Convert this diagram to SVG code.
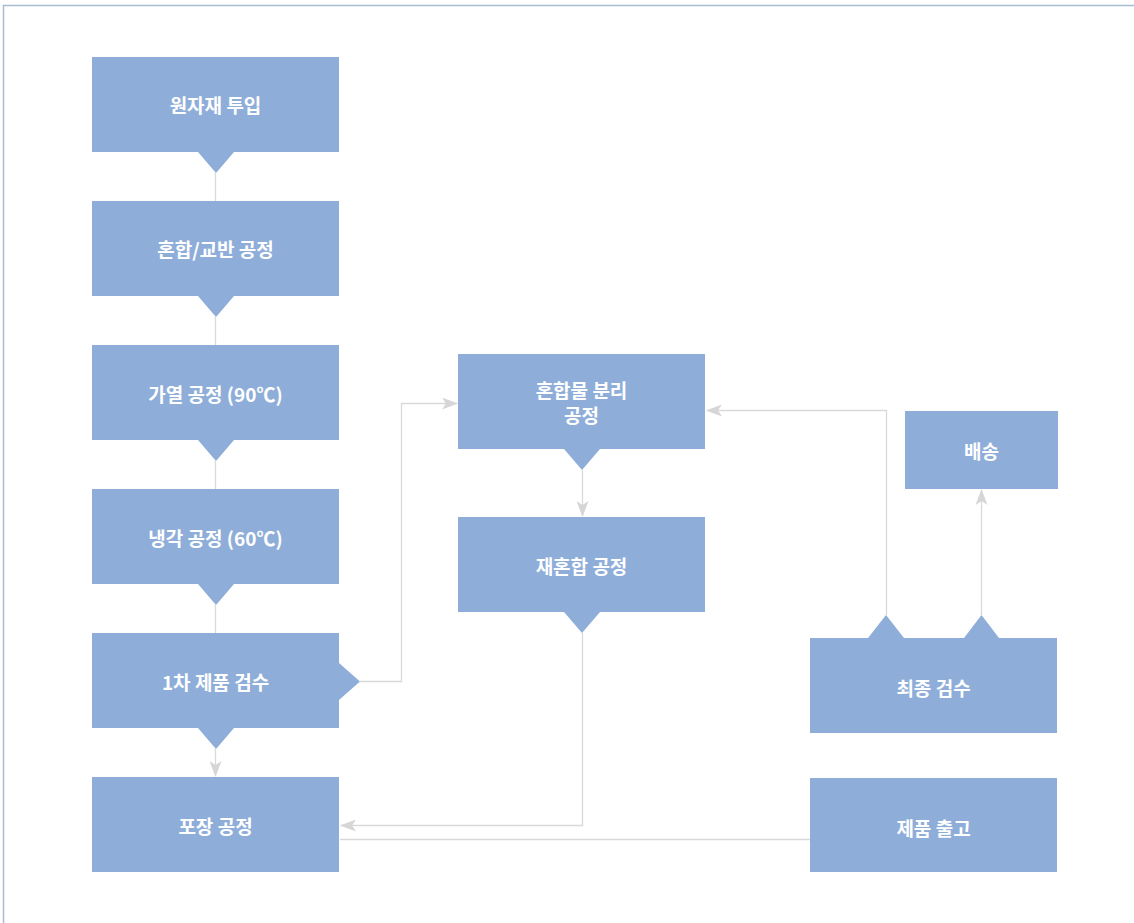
<svg xmlns="http://www.w3.org/2000/svg" width="1134" height="923" viewBox="0 0 1134 923">
<style>
.box{fill:#8eaed9}
.t{font-family:"Noto Sans CJK KR","Noto Sans",sans-serif;font-weight:bold;font-size:19px;fill:#ffffff;text-anchor:middle;dominant-baseline:central}
.ln{fill:none;stroke:#d9d9d9;stroke-width:1.3}
</style>
<defs>
<marker id="ah" viewBox="0 0 16 12" refX="15" refY="6" markerWidth="16" markerHeight="12" markerUnits="userSpaceOnUse" orient="auto">
<path d="M0,0 L16,6 L0,12 L4,6 Z" fill="#d6d6d6"/>
</marker>
</defs>
<rect width="1134" height="923" fill="#ffffff"/>
<path d="M3.5,923 V5.5 H1134" fill="none" stroke="#a9bcd6" stroke-width="1.5"/>
<g id="connectors">
<line class="ln" x1="215.5" y1="173" x2="215.5" y2="201"/>
<line class="ln" x1="215.5" y1="317" x2="215.5" y2="345"/>
<line class="ln" x1="215.5" y1="461" x2="215.5" y2="489"/>
<line class="ln" x1="215.5" y1="605" x2="215.5" y2="633"/>
<line class="ln" x1="215.5" y1="749" x2="215.5" y2="776" marker-end="url(#ah)"/>
<polyline class="ln" points="360,681.5 401.5,681.5 401.5,403.5 457,403.5" marker-end="url(#ah)"/>
<line class="ln" x1="582.5" y1="470" x2="582.5" y2="516" marker-end="url(#ah)"/>
<polyline class="ln" points="582.5,633 582.5,825.5 341,825.5" marker-end="url(#ah)"/>
<line class="ln" x1="810" y1="839.5" x2="340" y2="839.5"/>
<polyline class="ln" points="886.5,615 886.5,410.5 707,410.5" marker-end="url(#ah)"/>
<line class="ln" x1="981.5" y1="615" x2="981.5" y2="490" marker-end="url(#ah)"/>
</g>
<g id="n1"><path class="box" d="M92,57 H339 V152 H234 L216,173 L198,152 H92 Z"/><text class="t" x="215.5" y="104">원자재 투입</text></g>
<g id="n2"><path class="box" d="M92,201 H339 V296 H234 L216,317 L198,296 H92 Z"/><text class="t" x="215.5" y="248">혼합/교반 공정</text></g>
<g id="n3"><path class="box" d="M92,345 H339 V440 H234 L216,461 L198,440 H92 Z"/><text class="t" x="215.5" y="393">가열 공정 (90℃)</text></g>
<g id="n4"><path class="box" d="M92,489 H339 V584 H234 L216,605 L198,584 H92 Z"/><text class="t" x="215.5" y="537">냉각 공정 (60℃)</text></g>
<g id="n5"><path class="box" d="M92,633 H339 V663 L360,681.5 L339,700 V728 H234 L216,749 L198,728 H92 Z"/><text class="t" x="215.5" y="681">1차 제품 검수</text></g>
<g id="n6"><rect class="box" x="92" y="777" width="247" height="95"/><text class="t" x="215.5" y="825">포장 공정</text></g>
<g id="n7"><path class="box" d="M458,354 H705 V449 H600 L582,470 L564,449 H458 Z"/><text class="t" x="581.5" y="389">혼합물 분리</text><text class="t" x="581.5" y="414">공정</text></g>
<g id="n8"><path class="box" d="M458,517 H705 V612 H600 L582,633 L564,612 H458 Z"/><text class="t" x="581.5" y="565">재혼합 공정</text></g>
<g id="n9"><rect class="box" x="905" y="411" width="153" height="78"/><text class="t" x="981.5" y="450">배송</text></g>
<g id="n10"><path class="box" d="M810,638 H868 L886,615 L904,638 H964 L981.5,615 L999,638 H1057 V733 H810 Z"/><text class="t" x="933.5" y="687">최종 검수</text></g>
<g id="n11"><rect class="box" x="810" y="778" width="247" height="94"/><text class="t" x="933.5" y="827">제품 출고</text></g>
</svg>
